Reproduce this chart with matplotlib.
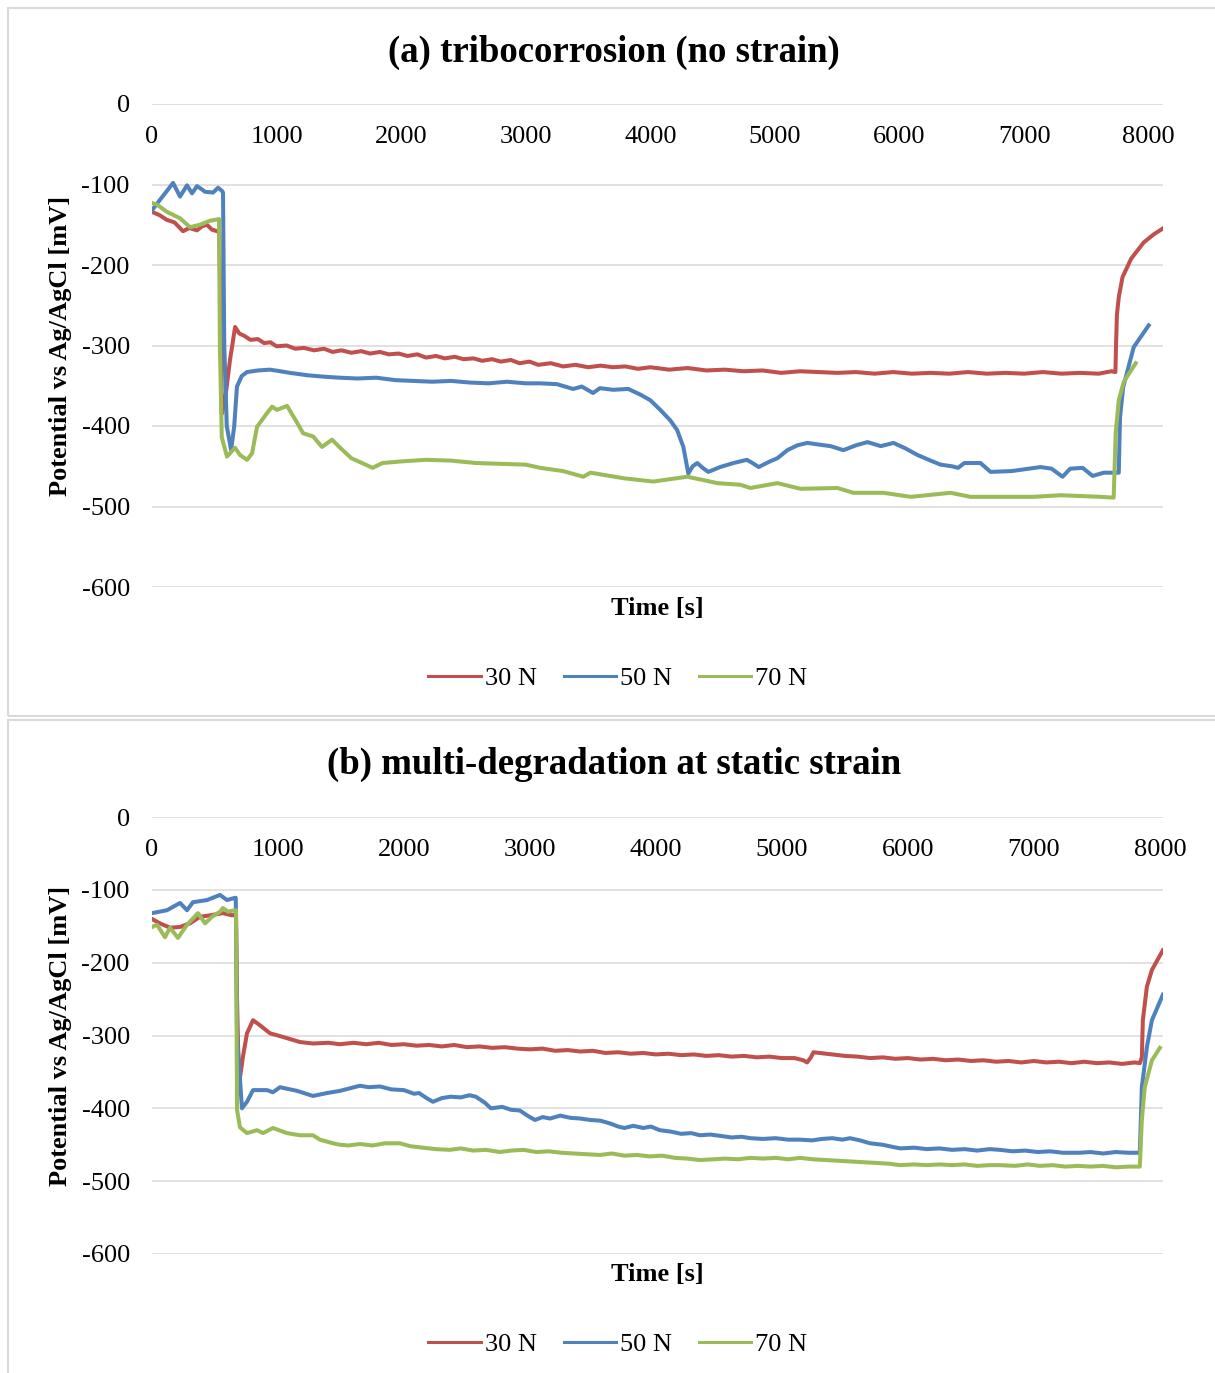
import numpy as np
import matplotlib
matplotlib.use('Agg')
import matplotlib.pyplot as plt
from matplotlib.patches import Rectangle

plt.rcParams['font.family'] = 'Liberation Serif'
plt.rcParams['axes.unicode_minus'] = False

W, H = 1215, 1373
PX = 0.72  # points per pixel at dpi=100

LABELS = ["30 N", "50 N", "70 N"]
COLORS = ["#C0504D", "#4F81BD", "#9BBB59"]
X_TICKS = [0, 1000, 2000, 3000, 4000, 5000, 6000, 7000, 8000]
Y_TICKS = [0, -100, -200, -300, -400, -500, -600]

# (a) tribocorrosion, (time [s], potential [mV])
RED_A = [(0, -134), (60, -138), (120, -144), (180, -147), (249, -158), (300, -154), (361, -157),
         (400, -152), (441, -150), (480, -156), (522, -158), (540, -159), (548, -240), (560, -385),
         (586, -368), (626, -318), (667, -277), (700, -285), (740, -288), (790, -293), (850, -292),
         (900, -297), (950, -296), (1000, -301), (1080, -300), (1150, -304), (1220, -303),
         (1300, -306), (1380, -304), (1450, -308), (1520, -306), (1600, -309), (1680, -307),
         (1750, -310), (1830, -308), (1900, -311), (1980, -310), (2050, -313), (2130, -311),
         (2200, -315), (2280, -313), (2350, -316), (2430, -314), (2500, -317), (2580, -316),
         (2650, -319), (2730, -317), (2800, -320), (2880, -318), (2950, -322), (3030, -320),
         (3100, -324), (3200, -322), (3300, -326), (3400, -324), (3500, -327), (3600, -325),
         (3700, -327), (3800, -326), (3900, -329), (4000, -327), (4150, -330), (4300, -328),
         (4450, -331), (4600, -330), (4750, -332), (4900, -331), (5050, -334), (5200, -332),
         (5350, -333), (5500, -334), (5650, -333), (5800, -335), (5950, -333), (6100, -335),
         (6250, -334), (6400, -335), (6550, -333), (6700, -335), (6850, -334), (7000, -335),
         (7150, -333), (7300, -335), (7450, -334), (7600, -335), (7700, -332), (7733, -333),
         (7738, -300), (7745, -262), (7760, -240), (7790, -215), (7860, -192), (7960, -172),
         (8040, -162), (8110, -155)]
BLUE_A = [(0, -132), (64, -119), (120, -108), (169, -98), (225, -115), (281, -101), (321, -111),
          (361, -102), (400, -106), (425, -109), (490, -110), (530, -104), (562, -108), (570, -110),
          (580, -300), (600, -400), (635, -430), (660, -400), (682, -351), (720, -338), (762, -333),
          (850, -331), (947, -330), (1030, -332), (1108, -334), (1250, -337), (1400, -339),
          (1509, -340), (1650, -341), (1800, -340), (1950, -343), (2100, -344), (2250, -345),
          (2400, -344), (2550, -346), (2700, -347), (2850, -345), (3000, -347), (3116, -347),
          (3250, -348), (3380, -354), (3450, -351), (3540, -359), (3595, -353), (3700, -355),
          (3823, -354), (3920, -361), (4000, -368), (4080, -380), (4160, -393), (4215, -405),
          (4265, -426), (4305, -459), (4340, -450), (4377, -446), (4420, -452), (4465, -457),
          (4560, -451), (4667, -446), (4775, -442), (4820, -446), (4870, -451), (4920, -447),
          (4960, -444), (5020, -440), (5100, -430), (5180, -424), (5260, -421), (5350, -423),
          (5446, -425), (5550, -430), (5650, -424), (5743, -420), (5850, -425), (5952, -421),
          (6050, -428), (6144, -436), (6250, -443), (6329, -448), (6420, -450), (6470, -452),
          (6520, -446), (6650, -446), (6731, -457), (6900, -456), (7132, -451), (7220, -453),
          (7309, -463), (7370, -453), (7470, -452), (7550, -462), (7640, -458), (7760, -458),
          (7770, -389), (7795, -352), (7880, -302), (8000, -275)]
GREEN_A = [(0, -123), (40, -125), (120, -134), (225, -142), (305, -153), (385, -150), (465, -145),
           (538, -143), (545, -300), (560, -414), (602, -438), (666, -427), (706, -436), (763, -442),
           (803, -434), (843, -401), (923, -384), (964, -376), (1004, -380), (1084, -375),
           (1165, -396), (1213, -409), (1293, -413), (1365, -426), (1445, -417), (1510, -427),
           (1600, -440), (1700, -447), (1770, -452), (1850, -446), (2000, -444), (2200, -442),
           (2400, -443), (2600, -446), (2800, -447), (3000, -448), (3116, -452), (3300, -456),
           (3462, -463), (3520, -458), (3790, -465), (4024, -469), (4297, -463), (4540, -471),
           (4723, -473), (4803, -477), (5020, -471), (5205, -478), (5502, -477), (5630, -483),
           (5871, -483), (6090, -488), (6410, -483), (6570, -488), (7076, -488), (7293, -486),
           (7615, -488), (7719, -489), (7727, -450), (7735, -409), (7760, -368), (7800, -345),
           (7896, -322)]

# (b) multi-degradation at static strain
RED_B = [(0, -140), (63, -146), (143, -152), (222, -151), (302, -146), (381, -137), (460, -135),
         (563, -132), (635, -135), (667, -134), (675, -250), (690, -368), (722, -329), (754, -297),
         (802, -279), (857, -286), (937, -297), (1040, -302), (1175, -309), (1278, -311),
         (1400, -310), (1492, -312), (1600, -310), (1700, -312), (1800, -310), (1900, -313),
         (2000, -312), (2100, -314), (2200, -313), (2300, -315), (2400, -313), (2500, -316),
         (2600, -315), (2700, -317), (2800, -316), (2900, -318), (3000, -319), (3100, -318),
         (3200, -321), (3300, -320), (3400, -322), (3500, -321), (3600, -324), (3700, -323),
         (3800, -325), (3900, -324), (4000, -326), (4100, -325), (4200, -327), (4300, -326),
         (4400, -328), (4500, -327), (4600, -329), (4700, -328), (4800, -330), (4900, -329),
         (5000, -331), (5100, -331), (5170, -334), (5200, -337), (5230, -330), (5250, -323),
         (5300, -324), (5400, -326), (5500, -328), (5600, -329), (5700, -331), (5800, -330),
         (5900, -332), (6000, -331), (6100, -333), (6200, -332), (6300, -334), (6400, -333),
         (6500, -335), (6600, -334), (6700, -336), (6800, -335), (6900, -337), (7000, -335),
         (7100, -337), (7200, -336), (7300, -338), (7400, -336), (7500, -338), (7600, -337),
         (7700, -339), (7800, -337), (7841, -338), (7857, -330), (7865, -279), (7897, -233),
         (7937, -210), (8024, -183)]
BLUE_B = [(0, -132), (119, -128), (222, -118), (278, -128), (325, -117), (437, -114), (540, -107),
          (595, -114), (659, -111), (665, -111), (675, -300), (714, -400), (754, -391), (802, -375),
          (913, -375), (960, -378), (1016, -371), (1151, -376), (1278, -383), (1389, -379),
          (1492, -376), (1560, -373), (1650, -369), (1720, -371), (1810, -370), (1900, -374),
          (2000, -375), (2080, -380), (2120, -379), (2180, -386), (2230, -391), (2300, -386),
          (2370, -384), (2450, -385), (2520, -382), (2570, -384), (2640, -392), (2690, -400),
          (2780, -398), (2850, -402), (2920, -403), (2980, -410), (3040, -416), (3100, -412),
          (3160, -414), (3240, -410), (3320, -413), (3400, -414), (3480, -416), (3560, -417),
          (3640, -421), (3700, -425), (3750, -427), (3820, -424), (3900, -427), (3960, -425),
          (4030, -430), (4120, -432), (4200, -435), (4280, -434), (4350, -437), (4430, -436),
          (4520, -438), (4600, -440), (4680, -439), (4750, -441), (4850, -442), (4950, -441),
          (5050, -443), (5140, -443), (5240, -444), (5320, -442), (5400, -441), (5480, -443),
          (5540, -441), (5620, -444), (5700, -448), (5800, -450), (5880, -453), (5940, -455),
          (6050, -454), (6150, -456), (6250, -455), (6350, -457), (6450, -456), (6550, -458),
          (6650, -456), (6730, -457), (6830, -459), (6930, -458), (7030, -460), (7130, -459),
          (7230, -461), (7365, -461), (7450, -460), (7550, -462), (7650, -460), (7750, -461),
          (7841, -461), (7857, -371), (7897, -316), (7937, -279), (8024, -244)]
GREEN_B = [(0, -151), (40, -148), (103, -165), (143, -152), (206, -166), (278, -148), (365, -132),
           (421, -146), (476, -137), (540, -130), (563, -125), (603, -130), (659, -128), (667, -128),
           (675, -402), (698, -426), (754, -434), (833, -430), (881, -434), (960, -427),
           (1071, -434), (1175, -437), (1278, -437), (1333, -443), (1437, -448), (1492, -450),
           (1560, -451), (1650, -449), (1750, -451), (1850, -448), (1968, -448), (2050, -452),
           (2150, -454), (2250, -456), (2365, -457), (2450, -455), (2550, -458), (2650, -457),
           (2762, -460), (2850, -458), (2950, -457), (3050, -460), (3150, -459), (3250, -461),
           (3350, -462), (3450, -463), (3556, -464), (3650, -462), (3750, -465), (3850, -464),
           (3950, -466), (4050, -465), (4150, -468), (4250, -469), (4350, -471), (4450, -470),
           (4550, -469), (4650, -470), (4750, -468), (4850, -469), (4950, -468), (5050, -470),
           (5143, -468), (5250, -470), (5350, -471), (5450, -472), (5550, -473), (5650, -474),
           (5750, -475), (5850, -476), (5937, -478), (6050, -477), (6150, -478), (6250, -477),
           (6350, -478), (6450, -477), (6550, -479), (6650, -478), (6730, -478), (6850, -479),
           (6950, -477), (7050, -479), (7150, -478), (7250, -480), (7350, -479), (7450, -480),
           (7550, -479), (7650, -481), (7750, -480), (7841, -480), (7857, -416), (7880, -371),
           (7937, -334), (8000, -317)]


def fx(px):
    return px / W


def fy(px):
    return 1 - px / H


def draw_panel(fig, top, bottom, xmax, title, title_y, legend_y, series):
    ax = fig.add_axes([fx(152), fy(bottom), fx(1163 - 152), (bottom - top) / H])
    for pts, color, label in zip(series, COLORS, LABELS):
        t, v = np.array(pts).T
        ax.plot(t, v, color=color, lw=2.9, label=label, solid_joinstyle='round')

    ax.set_xlim(0, xmax)
    ax.set_ylim(-600, 0)
    for s in ax.spines.values():
        s.set_visible(False)
    ax.yaxis.grid(True, color='#D9D9D9', lw=1.1)
    ax.set_axisbelow(True)

    ax.set_yticks(Y_TICKS)
    ax.tick_params(axis='y', length=0, pad=16, labelsize=19)
    ax.set_xticks([])
    # x labels sit just below the 0 mV line
    for t in X_TICKS:
        ax.annotate(str(t), xy=(t, 0), xytext=(0, -33 * PX), textcoords='offset points',
                    ha='center', va='center', fontsize=19)

    ax.annotate('Time [s]', xy=(0.5, 0), xycoords='axes fraction', xytext=(0, -21 * PX),
                textcoords='offset points', ha='center', va='center', fontsize=19,
                fontweight='bold')
    ax.annotate('Potential vs Ag/AgCl [mV]', xy=(0, 0.5), xycoords='axes fraction',
                xytext=(-92 * PX, 0), textcoords='offset points', ha='center', va='center',
                rotation=90, fontsize=19, fontweight='bold')

    fig.text(fx(614), fy(title_y), title, ha='center', va='center', fontsize=26.5,
             fontweight='bold')
    handles, labels = ax.get_legend_handles_labels()
    leg = fig.legend(handles, labels, loc='center', bbox_to_anchor=(fx(618), fy(legend_y)),
                     ncol=3, frameon=False, fontsize=19, handlelength=2.0, handletextpad=0.15,
                     columnspacing=1.0)
    for line in leg.get_lines():
        line.set_linewidth(2.2)
    return ax


fig = plt.figure(figsize=(W / 100, H / 100), dpi=100)

# panel frames
fig.add_artist(Rectangle((fx(8), fy(716)), fx(1230 - 8), (716 - 8) / H, transform=fig.transFigure,
                         fill=False, ec='#D9D9D9', lw=1.5))
fig.add_artist(Rectangle((fx(8), fy(1400)), fx(1230 - 8), (1400 - 720) / H, transform=fig.transFigure,
                         fill=False, ec='#D9D9D9', lw=1.5))

draw_panel(fig, 104, 587, 8115, '(a) tribocorrosion (no strain)', 52, 678,
           [RED_A, BLUE_A, GREEN_A])
draw_panel(fig, 817, 1254, 8025, '(b) multi-degradation at static strain', 764, 1344,
           [RED_B, BLUE_B, GREEN_B])

fig.savefig('out.png', dpi=100)
